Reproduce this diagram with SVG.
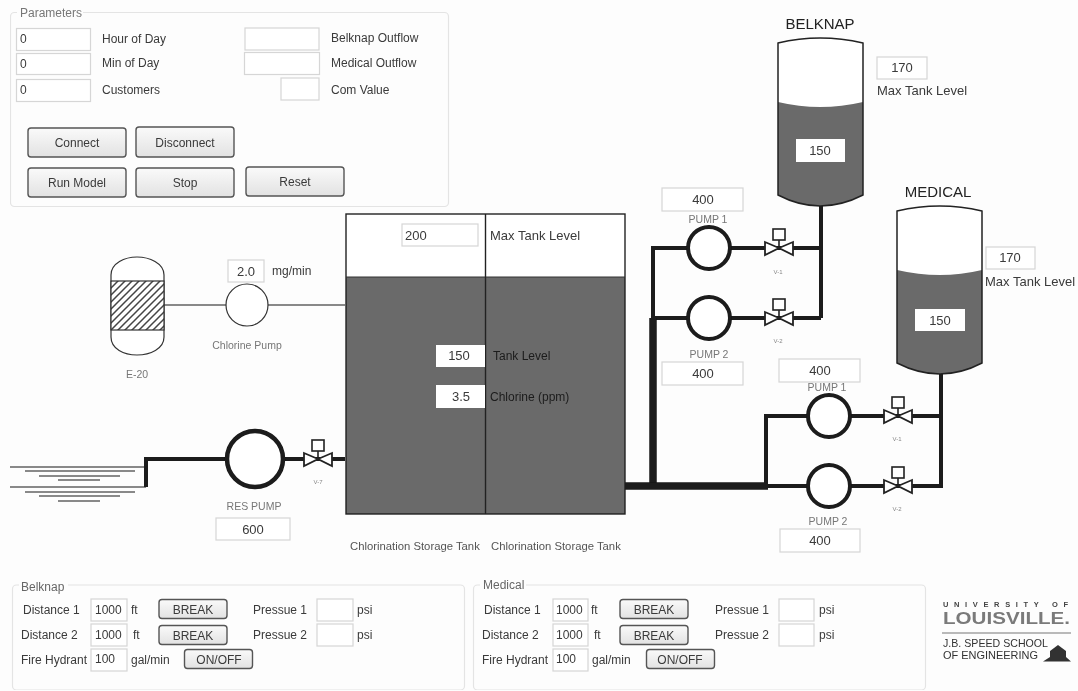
<svg xmlns="http://www.w3.org/2000/svg" width="1078" height="691" viewBox="0 0 1078 691">
<style>
text{font-family:"Liberation Sans",Arial,sans-serif;font-size:12px;fill:#3a3a3a}
.m{text-anchor:middle}
.big{font-size:15px;fill:#222}
.s{font-size:10.5px;fill:#777}
.xs{font-size:6px;fill:#888}
.cap{font-size:11.3px;fill:#555}
.lv{font-size:13px}
.dk{fill:#1c1c1c}
.f{fill:#fff;stroke:#d6d6d6;stroke-width:1.2}
.w{fill:#fff;stroke:none}
.btn{fill:url(#bg);stroke:#555;stroke-width:1.4}
.grp{fill:none;stroke:#e4e4e4;stroke-width:1.2}
.leg{fill:#fdfdfd;stroke:none}
.p{fill:none;stroke:#1a1a1a;stroke-linejoin:miter}
.pump{fill:#fff;stroke:#1a1a1a}
.liq{fill:#6a6a6a;stroke:none}
.tk{fill:none;stroke:#222;stroke-width:1.5}
</style>
<defs>
<linearGradient id="bg" x1="0" y1="0" x2="0" y2="1"><stop offset="0" stop-color="#fafafa"/><stop offset="1" stop-color="#e2e2e2"/></linearGradient>
<pattern id="hatch" width="7" height="7" patternUnits="userSpaceOnUse"><rect width="7" height="7" fill="#fff"/><path d="M-1 8L8 -1M-1 1L1 -1M6 8L8 6" stroke="#444" stroke-width="1.5"/></pattern>
<g id="valve"><line x1="0" y1="0" x2="0" y2="-9" stroke="#222" stroke-width="1.6"/><rect x="-6" y="-19" width="12" height="11" fill="#fff" stroke="#222" stroke-width="1.6"/><path d="M0 0L-14 -6V7ZM0 0L14 -6V7Z" fill="#fff" stroke="#222" stroke-width="1.8" stroke-linejoin="miter"/></g>
<filter id="soft" x="0" y="0" width="100%" height="100%"><feGaussianBlur stdDeviation="0.5"/></filter>
</defs>
<rect width="1078" height="691" fill="#fdfdfd"/>
<g filter="url(#soft)">
<g id="connectors">
<path class="p" stroke-width="1.2" d="M164 305H345"/>
<path class="p" stroke-width="4" d="M146 487V459H345"/>
<path class="p" stroke-width="1.2" d="M10 467H146M25 471H135M39 476H120M58 480H100M10 487H146M25 492H135M39 496H120M58 501H100"/>
<path class="p" stroke-width="4" d="M653 486V248H821M653 318H821M821 204V318"/>
<path class="p" stroke-width="7.5" d="M653 486V318"/>
<path class="p" stroke-width="7.5" d="M625 486H768"/>
<path class="p" stroke-width="4" d="M768 486H941V372M766 486V416H941"/>
</g>
<g id="parameters">
<rect class="grp" x="10.500" y="12.500" width="438" height="194" rx="4"/>
<rect class="leg" x="17" y="6" width="66" height="12"/>
<text x="20" y="17" style="fill:#777">Parameters</text>
<rect class="f" x="16.500" y="28.500" width="74" height="22"/><text x="20" y="43">0</text><text x="102" y="43">Hour of Day</text>
<rect class="f" x="16.500" y="53.500" width="74" height="21"/><text x="20" y="68">0</text><text x="102" y="67">Min of Day</text>
<rect class="f" x="16.500" y="79.500" width="74" height="22"/><text x="20" y="94">0</text><text x="102" y="94">Customers</text>
<rect class="f" x="245" y="28" width="74" height="22"/><text x="331" y="42">Belknap Outflow</text>
<rect class="f" x="244.500" y="52.500" width="75" height="22"/><text x="331" y="67">Medical Outflow</text>
<rect class="f" x="281" y="78" width="38" height="22"/><text x="331" y="94">Com Value</text>
<rect class="btn" x="28" y="128" width="98" height="29" rx="3"/><text class="m" x="77" y="147">Connect</text>
<rect class="btn" x="136" y="127" width="98" height="30" rx="3"/><text class="m" x="185" y="147">Disconnect</text>
<rect class="btn" x="28" y="168" width="98" height="29" rx="3"/><text class="m" x="77" y="187">Run Model</text>
<rect class="btn" x="136" y="168" width="98" height="29" rx="3"/><text class="m" x="185" y="187">Stop</text>
<rect class="btn" x="246" y="167" width="98" height="29" rx="3"/><text class="m" x="295" y="186">Reset</text>
</g>
<g id="storage-tank">
<rect x="346" y="214" width="279" height="300" fill="#fff"/>
<rect class="liq" x="346" y="277" width="279" height="237"/>
<rect x="346" y="214" width="279" height="300" fill="none" stroke="#222" stroke-width="1.4"/>
<line x1="346" y1="277" x2="625" y2="277" stroke="#333" stroke-width="1"/>
<line x1="485.500" y1="214" x2="485.500" y2="514" stroke="#222" stroke-width="1.4"/>
<rect class="f" x="402" y="224" width="76" height="22"/><text x="405" y="240" class="lv">200</text>
<text x="490" y="240" class="lv">Max Tank Level</text>
<rect class="w" x="436" y="345" width="49" height="22"/><text class="lv m" x="459" y="360">150</text>
<rect class="w" x="436" y="385" width="49" height="23"/><text class="lv m" x="461" y="401">3.5</text>
<text x="493" y="360" class="dk">Tank Level</text>
<text x="490" y="401" class="dk">Chlorine (ppm)</text>
<text class="cap" x="350" y="550">Chlorination Storage Tank</text>
<text class="cap" x="491" y="550">Chlorination Storage Tank</text>
</g>
<g id="e20">
<path d="M111 281V275C111 263 125 257 137 257S164 263 164 275V337C164 349 150 355 137 355S111 349 111 337Z" fill="#fff" stroke="#333" stroke-width="1.2"/>
<rect x="111" y="281" width="53" height="49" fill="url(#hatch)" stroke="#333" stroke-width="1.2"/>
<text class="s m" x="137" y="378">E-20</text>
</g>
<g id="chlorine-pump">
<circle cx="247" cy="305" r="21" fill="#fff" stroke="#333" stroke-width="1.2"/>
<rect class="f" x="228" y="260" width="36" height="22"/><text class="lv m" x="246" y="276">2.0</text>
<text x="272" y="275">mg/min</text>
<text class="s m" x="247" y="349">Chlorine Pump</text>
</g>
<g id="res-pump">
<circle class="pump" cx="255" cy="459" r="28" stroke-width="4.500"/>
<use href="#valve" x="318" y="459"/>
<text class="xs m" x="318" y="484">V-7</text>
<text class="s m" x="254" y="510">RES PUMP</text>
<rect class="f" x="216" y="518" width="74" height="22"/><text class="lv m" x="253" y="534">600</text>
</g>
<g id="belknap-tank">
<path d="M778 43Q820 33 863 43V195Q820 217 778 195Z" fill="#fff"/>
<path class="liq" d="M778 102Q820 112 863 102V195Q820 217 778 195Z"/>
<path class="tk" d="M778 43Q820 33 863 43V195Q820 217 778 195Z"/>
<rect class="w" x="796" y="139" width="49" height="23"/><text class="lv m" x="820" y="155">150</text>
<text class="big m" x="820" y="29">BELKNAP</text>
<rect class="f" x="877" y="57" width="50" height="22"/><text class="lv m" x="902" y="72">170</text>
<text x="877" y="95" class="lv">Max Tank Level</text>
</g>
<g id="medical-tank">
<path d="M897 211Q940 201 982 211V363Q940 385 897 363Z" fill="#fff"/>
<path class="liq" d="M897 270Q940 280 982 270V363Q940 385 897 363Z"/>
<path class="tk" d="M897 211Q940 201 982 211V363Q940 385 897 363Z"/>
<rect class="w" x="915" y="309" width="50" height="22"/><text class="lv m" x="940" y="325">150</text>
<text class="big m" x="938" y="197">MEDICAL</text>
<rect class="f" x="986" y="247" width="49" height="22"/><text class="lv m" x="1010" y="262">170</text>
<text x="985" y="286" class="lv">Max Tank Level</text>
</g>
<g id="belknap-pumps">
<circle class="pump" cx="709" cy="248" r="21" stroke-width="4"/>
<circle class="pump" cx="709" cy="318" r="21" stroke-width="4"/>
<use href="#valve" x="779" y="248"/><use href="#valve" x="779" y="318"/>
<text class="xs m" x="778" y="274">V-1</text><text class="xs m" x="778" y="343">V-2</text>
<rect class="f" x="662" y="188" width="81" height="23"/><text class="lv m" x="703" y="204">400</text>
<text class="s m" x="708" y="223">PUMP 1</text>
<text class="s m" x="709" y="358">PUMP 2</text>
<rect class="f" x="662" y="362" width="81" height="23"/><text class="lv m" x="703" y="378">400</text>
</g>
<g id="medical-pumps">
<circle class="pump" cx="829" cy="416" r="21" stroke-width="4"/>
<circle class="pump" cx="829" cy="486" r="21" stroke-width="4"/>
<use href="#valve" x="898" y="416"/><use href="#valve" x="898" y="486"/>
<text class="xs m" x="897" y="441">V-1</text><text class="xs m" x="897" y="511">V-2</text>
<rect class="f" x="779" y="359" width="81" height="23"/><text class="lv m" x="820" y="375">400</text>
<text class="s m" x="827" y="391">PUMP 1</text>
<text class="s m" x="828" y="525">PUMP 2</text>
<rect class="f" x="780" y="529" width="80" height="23"/><text class="lv m" x="820" y="545">400</text>
</g>
<g id="belknap-panel">
<rect class="grp" x="12.500" y="585" width="452" height="105" rx="4"/>
<rect class="leg" x="19" y="580" width="49" height="10"/>
<text x="21" y="591" style="fill:#666">Belknap</text>
<text x="23" y="614">Distance 1</text><text x="21" y="639">Distance 2</text><text x="21" y="664">Fire Hydrant</text>
<rect class="f" x="91" y="599" width="36" height="22"/><text x="95" y="614">1000</text><text x="131" y="614">ft</text>
<rect class="f" x="91" y="624" width="36" height="22"/><text x="95" y="639">1000</text><text x="133" y="639">ft</text>
<rect class="f" x="91" y="649" width="36" height="22"/><text x="95" y="663">100</text><text x="131" y="664">gal/min</text>
<rect class="btn" x="159" y="599.500" width="68" height="19" rx="3"/><text class="m" x="193" y="614">BREAK</text>
<rect class="btn" x="159" y="625.500" width="68" height="19" rx="3"/><text class="m" x="193" y="640">BREAK</text>
<rect class="btn" x="184.500" y="649.500" width="68" height="19" rx="3"/><text class="m" x="219" y="664">ON/OFF</text>
<text x="253" y="614">Pressue 1</text><text x="253" y="639">Pressue 2</text>
<rect class="f" x="317" y="599" width="36" height="22"/><text x="357" y="614">psi</text>
<rect class="f" x="317" y="624" width="36" height="22"/><text x="357" y="639">psi</text>
</g>
<g id="medical-panel">
<rect class="grp" x="473.500" y="585" width="452" height="105" rx="4"/>
<rect class="leg" x="480" y="580" width="46" height="10"/>
<text x="483" y="589" style="fill:#666">Medical</text>
<text x="484" y="614">Distance 1</text><text x="482" y="639">Distance 2</text><text x="482" y="664">Fire Hydrant</text>
<rect class="f" x="553" y="599" width="35" height="22"/><text x="556" y="614">1000</text><text x="591" y="614">ft</text>
<rect class="f" x="553" y="624" width="35" height="22"/><text x="556" y="639">1000</text><text x="594" y="639">ft</text>
<rect class="f" x="553" y="649" width="35" height="22"/><text x="556" y="663">100</text><text x="592" y="664">gal/min</text>
<rect class="btn" x="620" y="599.500" width="68" height="19" rx="3"/><text class="m" x="654" y="614">BREAK</text>
<rect class="btn" x="620" y="625.500" width="68" height="19" rx="3"/><text class="m" x="654" y="640">BREAK</text>
<rect class="btn" x="646.500" y="649.500" width="68" height="19" rx="3"/><text class="m" x="680" y="664">ON/OFF</text>
<text x="715" y="614">Pressue 1</text><text x="715" y="639">Pressue 2</text>
<rect class="f" x="779" y="599" width="35" height="22"/><text x="819" y="614">psi</text>
<rect class="f" x="779" y="624" width="35" height="22"/><text x="819" y="639">psi</text>
</g>
<g id="logo">
<text x="943" y="606.500" textLength="125" style="font-size:7.500px;font-weight:700;fill:#444">UNIVERSITY OF</text>
<text x="943" y="624" textLength="127" lengthAdjust="spacingAndGlyphs" style="font-size:17px;font-weight:700;fill:#7a7a7a">LOUISVILLE.</text>
<line x1="942" y1="633" x2="1071" y2="633" stroke="#777" stroke-width="1.2"/>
<text x="943" y="647" textLength="105" lengthAdjust="spacingAndGlyphs" style="font-size:11.500px;fill:#333">J.B. SPEED SCHOOL</text>
<text x="943" y="659" textLength="95" lengthAdjust="spacingAndGlyphs" style="font-size:11.500px;fill:#333">OF ENGINEERING</text>
<path d="M1043 661.500L1050 657V651L1058 645L1066 651V657L1071 661.500Z" fill="#333"/>
</g>
</g>
</svg>
